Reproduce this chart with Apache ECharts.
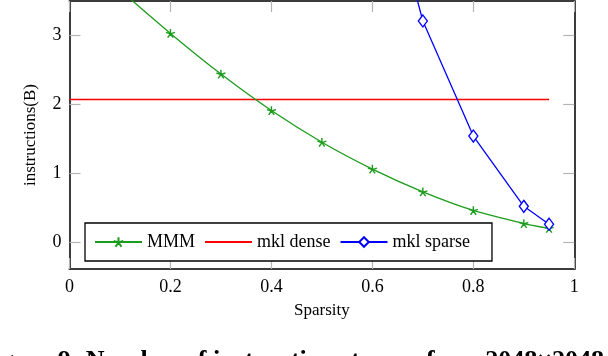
<!DOCTYPE html>
<html>
<head>
<meta charset="utf-8">
<script src="https://cdn.jsdelivr.net/npm/echarts@6/dist/echarts.min.js"></script>
<style>
  html, body { margin: 0; padding: 0; background: #fff; }
  #chart { width: 608px; height: 356px; }
</style>
</head>
<body>
<div id="chart"></div>
<script>
// data
var sparsity    = [0.1, 0.2, 0.3, 0.4, 0.5, 0.6, 0.7, 0.8, 0.9, 0.95]
var mmm         = [3.66, 3.03, 2.44, 1.91, 1.45, 1.06, 0.73, 0.46, 0.27, 0.2]
var denseX      = [0, 0.95]
var mklDense    = [2.07, 2.07]
var sparseX     = [0.6, 0.7, 0.8, 0.9, 0.95]
var mklSparse   = [5.96, 3.21, 1.54, 0.52, 0.26]
var yTicks      = [0, 1, 2, 3]
var caption     = 'Figure 9: Number of instructions to run for a 2048\u00d72048 matrix'

var font = 'Liberation Serif'
var tickColor = '#b4b4b4'
var frameColor = '#3c3c3c'

function zip(xs, ys) {
    return xs.map(function (x, i) { return [x, ys[i]] })
}

// pgfplots-like 5 arm star
var starPath = 'path://M0,0L0,-1M0,0L0.951,-0.309M0,0L0.588,0.809M0,0L-0.588,0.809M0,0L-0.951,-0.309'

var chart = echarts.init(document.getElementById('chart'), null, { renderer: 'canvas' })

var yBase = {
    type: 'value', min: -0.39, max: 3.5,
    splitLine: { show: false },
    axisLine: { show: true, onZero: false, lineStyle: { color: frameColor, width: 2 } },
    axisTick: { show: true, inside: true, length: 11, customValues: yTicks,
                lineStyle: { color: tickColor, width: 1.2 } }
}
var xBase = {
    type: 'value', min: 0, max: 1, interval: 0.2,
    splitLine: { show: false },
    axisLine: { show: true, onZero: false, lineStyle: { color: frameColor, width: 2 } },
    axisTick: { show: true, inside: true, length: 11, lineStyle: { color: tickColor, width: 1.2 } }
}

var option = {
    animation: false,
    textStyle: { fontFamily: font },
    grid: { left: 69.5, right: 33.7, top: 1, bottom: 87, containLabel: false },
    xAxis: [
        Object.assign({}, xBase, {
            position: 'bottom',
            name: 'Sparsity', nameLocation: 'middle', nameGap: 33,
            nameTextStyle: { fontFamily: font, fontSize: 17, color: '#000' },
            axisLabel: { margin: 9, fontFamily: font, fontSize: 18, color: '#000' }
        }),
        Object.assign({}, xBase, { position: 'top', axisLabel: { show: false } })
    ],
    yAxis: [
        Object.assign({}, yBase, {
            position: 'left',
            name: 'instructions(B)', nameLocation: 'middle', nameGap: 30,
            nameTextStyle: { fontFamily: font, fontSize: 17, color: '#000' },
            axisLabel: { margin: 8, fontFamily: font, fontSize: 18, color: '#000', customValues: yTicks }
        }),
        Object.assign({}, yBase, { position: 'right', axisLabel: { show: false } })
    ],
    legend: {
        left: 85, top: 223,
        orient: 'horizontal',
        itemWidth: 47, itemHeight: 12, itemGap: 9,
        padding: [10, 22, 10, 9],
        backgroundColor: '#fff',
        borderColor: '#000', borderWidth: 1.3, borderRadius: 0,
        textStyle: { fontFamily: font, fontSize: 18, color: '#000' },
        data: [
            'MMM',
            { name: 'mkl dense', itemStyle: { opacity: 0 } },
            'mkl sparse'
        ]
    },
    series: [
        {
            name: 'MMM', type: 'line', smooth: 0.3,
            data: zip(sparsity, mmm),
            symbol: starPath, symbolSize: [9, 8.6],
            itemStyle: { color: 'rgba(0,0,0,0)', borderColor: '#1c9c1c', borderWidth: 1.4 },
            lineStyle: { color: '#1c9c1c', width: 1.3 },
            z: 3
        },
        {
            name: 'mkl dense', type: 'line',
            data: zip(denseX, mklDense),
            symbol: 'none',
            itemStyle: { color: '#ff0000' },
            lineStyle: { color: '#ff0000', width: 1.3 },
            z: 2
        },
        {
            name: 'mkl sparse', type: 'line',
            data: zip(sparseX, mklSparse),
            symbol: 'diamond', symbolSize: [9, 12],
            itemStyle: { color: '#fff', borderColor: '#0000ff', borderWidth: 1.4 },
            lineStyle: { color: '#0000ff', width: 1.3 },
            z: 4
        }
    ],
    graphic: [{
        type: 'text', left: -22, top: 348, silent: true,
        style: { text: caption, font: 'bold 26px "Liberation Serif"', fill: '#000' }
    }]
}

chart.setOption(option)
</script>
</body>
</html>
